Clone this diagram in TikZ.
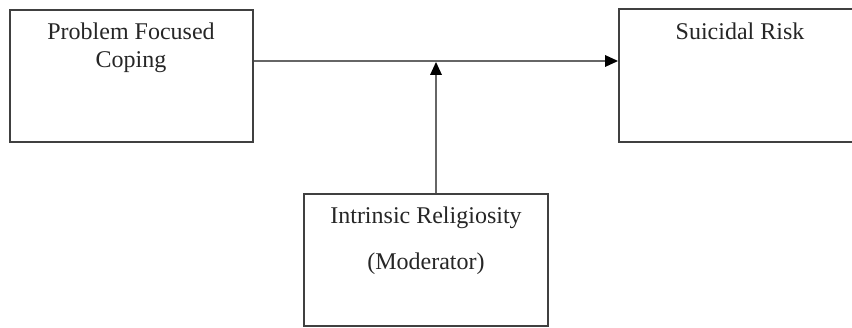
\documentclass[tikz,border=0pt]{standalone}
\usepackage{fontspec}
\setmainfont{Liberation Serif}
\usetikzlibrary{arrows.meta}
\tikzset{
  boxstyle/.style={draw=black!75, line width=2pt, rectangle, inner sep=0pt},
  lbl/.style={font=\fontsize{24}{28}\selectfont, inner sep=0pt, anchor=base, text=black!85},
  conn/.style={draw=black!60, line width=1.5pt, ->, >={Triangle[length=13pt,width=12pt,line width=0pt,fill=black,color=black]}}
}
\begin{document}
\begin{tikzpicture}[x=1pt,y=1pt]
\useasboundingbox (0,0) rectangle (852,327);
\fill[white] (0,0) rectangle (852,327);
\clip (0,0) rectangle (852,327);
% boxes
\node[boxstyle, minimum width=243pt, minimum height=132pt] (lb) at (131.5,251) {};
\node[boxstyle, minimum width=242pt, minimum height=133pt] (rb) at (740,251.5) {};
\node[boxstyle, minimum width=244pt, minimum height=132pt] (mb) at (426,67) {};
% texts
\node[lbl] (lbt1) at (131,287) {Problem Focused};
\node[lbl] (lbt2) at (131,259) {Coping};
\node[lbl] (rbt1) at (740,287) {Suicidal Risk};
\node[lbl] (mbt1) at (426,103) {Intrinsic Religiosity};
\node[lbl] (mbt2) at (426,57) {(Moderator)};
% connectors
\coordinate (j) at (436,265);
\draw[conn] ([yshift=15pt]lb.east) -- ([yshift=14.5pt]rb.west);
\draw[conn] ([xshift=10pt]mb.north) -- (j);
\end{tikzpicture}
\end{document}
